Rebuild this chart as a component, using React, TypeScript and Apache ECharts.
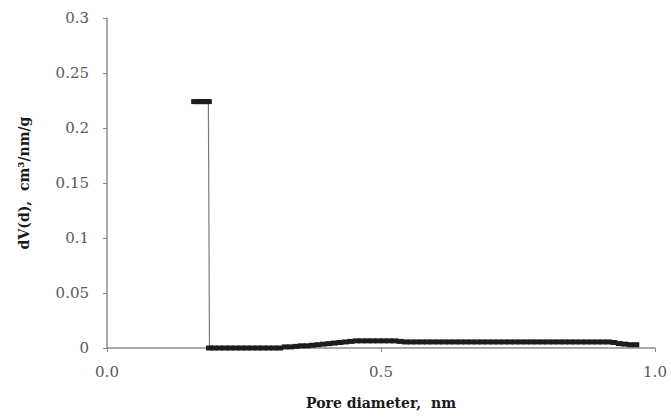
import React, { useEffect, useRef } from "react";
import * as echarts from "echarts";

// Pore size distribution: pore diameter (nm) vs dV(d) (cm³/nm/g)
const poreDiameter: number[] = [
  0.16, 0.165, 0.17, 0.175, 0.18, 0.185,
  0.187, 0.195, 0.205, 0.215, 0.225, 0.235, 0.245, 0.255, 0.265, 0.275, 0.285, 0.295, 0.305, 0.315,
  0.325, 0.335, 0.345, 0.355, 0.365, 0.375, 0.385, 0.395, 0.405, 0.415, 0.425, 0.435, 0.445,
  0.455, 0.465, 0.475, 0.485, 0.495, 0.505, 0.515, 0.525, 0.535,
  0.545, 0.555, 0.565, 0.575, 0.585, 0.595, 0.605, 0.615, 0.625, 0.635, 0.645, 0.655, 0.665,
  0.675, 0.685, 0.695, 0.705, 0.715, 0.725, 0.735, 0.745, 0.755, 0.765, 0.775, 0.785, 0.795,
  0.805, 0.815, 0.825, 0.835, 0.845, 0.855, 0.865, 0.875, 0.885, 0.895, 0.905, 0.915, 0.925,
  0.935, 0.945, 0.955, 0.965,
];

const dV: number[] = [
  0.224, 0.224, 0.224, 0.224, 0.224, 0.224,
  0.0, 0.0, 0.0, 0.0, 0.0, 0.0, 0.0, 0.0, 0.0, 0.0, 0.0, 0.0, 0.0, 0.0,
  0.001, 0.001, 0.0015, 0.002, 0.002, 0.0025, 0.003, 0.0035, 0.004, 0.0045, 0.005, 0.0055, 0.006,
  0.0065, 0.0065, 0.0065, 0.0065, 0.0065, 0.0065, 0.0065, 0.0065, 0.006,
  0.0055, 0.0055, 0.0055, 0.0055, 0.0055, 0.0055, 0.0055, 0.0055, 0.0055, 0.0055, 0.0055, 0.0055, 0.0055,
  0.0055, 0.0055, 0.0055, 0.0055, 0.0055, 0.0055, 0.0055, 0.0055, 0.0055, 0.0055, 0.0055, 0.0055, 0.0055,
  0.0055, 0.0055, 0.0055, 0.0055, 0.0055, 0.0055, 0.0055, 0.0055, 0.0055, 0.0055, 0.0055, 0.0055, 0.005,
  0.004, 0.0035, 0.003, 0.003,
];

const xTicks = [0, 0.5, 1.0];
const yTicks = [0, 0.05, 0.1, 0.15, 0.2, 0.25, 0.3];

export default function App() {
  const ref = useRef<HTMLDivElement>(null);

  useEffect(() => {
    if (!ref.current) return;
    const chart = echarts.init(ref.current, undefined, { renderer: "svg" });
    const axisGray = "#8c8c8c";
    const labelGray = "#595959";
    const titleStyle = {
      fontFamily: "DejaVu Serif",
      fontWeight: "bold",
      fontSize: 14,
      color: "#1a1a1a",
    };
    chart.setOption({
      animation: false,
      backgroundColor: "#ffffff",
      grid: { left: 107, right: 16, top: 18, bottom: 70 },
      xAxis: {
        type: "value",
        min: xTicks[0],
        max: xTicks[xTicks.length - 1],
        interval: 0.5,
        name: "Pore diameter,  nm",
        nameLocation: "middle",
        nameGap: 48,
        nameTextStyle: titleStyle,
        axisLine: { show: true, lineStyle: { color: axisGray, width: 1.5 } },
        axisTick: { show: true, length: 4, lineStyle: { color: axisGray } },
        splitLine: { show: false },
        axisLabel: {
          formatter: (v: number) => v.toFixed(1),
          fontFamily: "DejaVu Serif",
          fontSize: 15,
          color: labelGray,
          margin: 16,
        },
      },
      yAxis: {
        type: "value",
        min: yTicks[0],
        max: yTicks[yTicks.length - 1],
        interval: 0.05,
        name: "dV(d),  cm³/nm/g",
        nameLocation: "middle",
        nameGap: 76,
        nameTextStyle: titleStyle,
        axisLine: { show: true, lineStyle: { color: axisGray, width: 1.5 } },
        axisTick: { show: true, length: 4, lineStyle: { color: axisGray } },
        splitLine: { show: false },
        axisLabel: {
          formatter: (v: number) => String(Number(v.toFixed(2))),
          fontFamily: "DejaVu Serif",
          fontSize: 15,
          color: labelGray,
          margin: 18,
        },
      },
      series: [
        {
          type: "line",
          data: poreDiameter.map((x, i) => [x, dV[i]]),
          lineStyle: { color: "#7a7a7a", width: 1.2 },
          symbol: "rect",
          symbolSize: [7, 5],
          itemStyle: { color: "#1c1c1c" },
          showSymbol: true,
        },
      ],
    });
    return () => chart.dispose();
  }, []);

  return (
    <div
      ref={ref}
      style={{ position: "absolute", left: 0, top: 0, width: 671, height: 418 }}
    />
  );
}
